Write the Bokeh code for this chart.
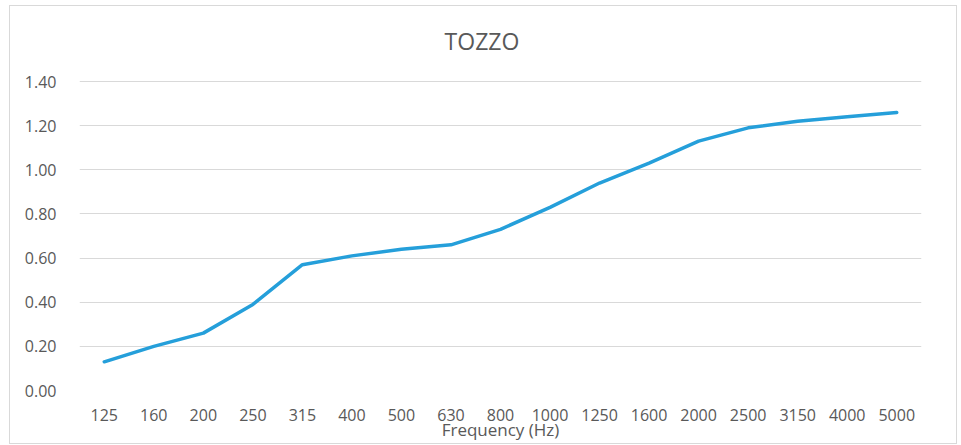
from bokeh.plotting import figure
from bokeh.models import FactorRange, Range1d, FixedTicker, NumeralTickFormatter, Label
from bokeh.embed import file_html
from bokeh.resources import INLINE

frequencies = ["125", "160", "200", "250", "315", "400", "500", "630", "800",
               "1000", "1250", "1600", "2000", "2500", "3150", "4000", "5000"]
values = [0.13, 0.20, 0.26, 0.39, 0.57, 0.61, 0.64, 0.66, 0.73,
          0.83, 0.94, 1.03, 1.13, 1.19, 1.22, 1.24, 1.26]
y_ticks = [0.0, 0.2, 0.4, 0.6, 0.8, 1.0, 1.2, 1.4]

FONT = "Open Sans"
GREY = "#595959"

# frame extends above the 1.40 gridline to leave room for the title inside it
FRAME_H = 370
Y_TOP = 1.4 * FRAME_H / 309

p = figure(width=948, height=439, output_backend="svg", toolbar_location=None,
           x_range=FactorRange(*frequencies), y_range=Range1d(0, Y_TOP),
           min_border_left=69, min_border_right=37, min_border_top=14, min_border_bottom=55)
p.styles = {"border": "1px solid #d9d9d9", "box-sizing": "border-box",
            "margin-left": "9px", "margin-top": "5px"}

p.line(frequencies, values, line_color="#259FDA", line_width=3.5, line_cap="round", line_join="round")

title = Label(x=402.5, y=350, x_units="screen", y_units="screen", text="TOZZO",
              text_font=FONT, text_font_size="23px", text_color=GREY,
              text_align="center", text_baseline="middle")
p.add_layout(title)

p.outline_line_color = None
p.background_fill_color = "white"
p.border_fill_color = "white"

p.xgrid.grid_line_color = None
p.ygrid.grid_line_color = "#d9d9d9"
p.ygrid.grid_line_width = 1

p.yaxis.ticker = FixedTicker(ticks=y_ticks)
p.yaxis.formatter = NumeralTickFormatter(format="0.00")
for ax in (p.xaxis[0], p.yaxis[0]):
    ax.axis_line_color = None
    ax.major_tick_line_color = None
    ax.minor_tick_line_color = None
    ax.major_label_text_font = FONT
    ax.major_label_text_font_size = "16px"
    ax.major_label_text_color = GREY

p.yaxis.major_label_standoff = 17
p.xaxis.major_label_standoff = 12
p.xaxis.axis_label = "Frequency (Hz)"
p.xaxis.axis_label_text_font = FONT
p.xaxis.axis_label_text_font_size = "17px"
p.xaxis.axis_label_text_font_style = "normal"
p.xaxis.axis_label_text_color = GREY
p.xaxis.axis_label_standoff = -6

open("out.html", "w").write(file_html(p, INLINE))
